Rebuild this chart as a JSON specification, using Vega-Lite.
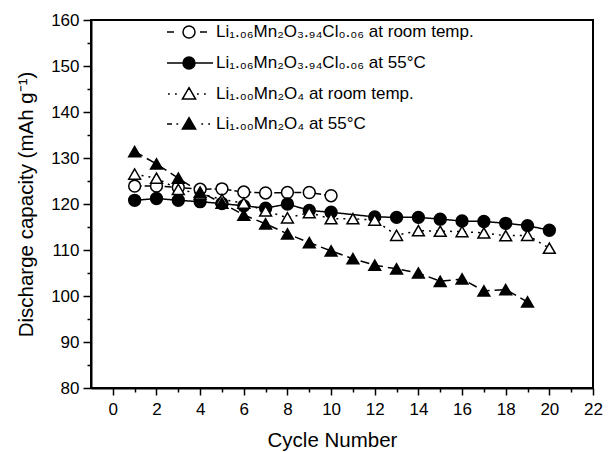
{
  "$schema": "https://vega.github.io/schema/vega-lite/v6.json",
  "width": 502,
  "height": 368,
  "autosize": {"type": "none"},
  "padding": {"left": 91, "top": 20, "right": 15, "bottom": 64},
  "background": "white",
  "config": {
    "font": "Liberation Sans",
    "view": {"stroke": "black", "strokeWidth": 2},
    "axis": {
      "grid": false,
      "domainColor": "black",
      "domainWidth": 2,
      "tickColor": "black",
      "tickWidth": 1.5,
      "labelColor": "black",
      "titleColor": "black",
      "labelFont": "Liberation Sans",
      "titleFont": "Liberation Sans",
      "labelFontSize": 17,
      "titleFontSize": 20.5,
      "titleFontWeight": "normal"
    }
  },
  "data": {
    "values": [
      {"s": "A", "c": 1, "v": 123.9}, {"s": "A", "c": 2, "v": 123.9}, {"s": "A", "c": 3, "v": 123.6}, {"s": "A", "c": 4, "v": 123.2}, {"s": "A", "c": 5, "v": 123.3},
      {"s": "A", "c": 6, "v": 122.6}, {"s": "A", "c": 7, "v": 122.4}, {"s": "A", "c": 8, "v": 122.5}, {"s": "A", "c": 9, "v": 122.5}, {"s": "A", "c": 10, "v": 121.8},
      {"s": "B", "c": 1, "v": 120.8}, {"s": "B", "c": 2, "v": 121.2}, {"s": "B", "c": 3, "v": 120.8}, {"s": "B", "c": 4, "v": 120.5}, {"s": "B", "c": 5, "v": 120.1},
      {"s": "B", "c": 6, "v": 119.6}, {"s": "B", "c": 7, "v": 119.1}, {"s": "B", "c": 8, "v": 120.0}, {"s": "B", "c": 9, "v": 118.6}, {"s": "B", "c": 10, "v": 118.2},
      {"s": "B", "c": 12, "v": 117.2}, {"s": "B", "c": 13, "v": 117.1}, {"s": "B", "c": 14, "v": 117.1}, {"s": "B", "c": 15, "v": 116.7}, {"s": "B", "c": 16, "v": 116.3},
      {"s": "B", "c": 17, "v": 116.2}, {"s": "B", "c": 18, "v": 115.8}, {"s": "B", "c": 19, "v": 115.3}, {"s": "B", "c": 20, "v": 114.3},
      {"s": "C", "c": 1, "v": 126.5}, {"s": "C", "c": 2, "v": 125.6}, {"s": "C", "c": 3, "v": 123.2}, {"s": "C", "c": 4, "v": 122.2}, {"s": "C", "c": 5, "v": 121.0},
      {"s": "C", "c": 6, "v": 120.2}, {"s": "C", "c": 7, "v": 118.5}, {"s": "C", "c": 8, "v": 117.0}, {"s": "C", "c": 9, "v": 118.1}, {"s": "C", "c": 10, "v": 116.8},
      {"s": "C", "c": 11, "v": 116.8}, {"s": "C", "c": 12, "v": 116.5}, {"s": "C", "c": 13, "v": 113.2}, {"s": "C", "c": 14, "v": 114.2}, {"s": "C", "c": 15, "v": 114.1},
      {"s": "C", "c": 16, "v": 114.0}, {"s": "C", "c": 17, "v": 113.7}, {"s": "C", "c": 18, "v": 113.1}, {"s": "C", "c": 19, "v": 113.2}, {"s": "C", "c": 20, "v": 110.4},
      {"s": "D", "c": 1, "v": 131.4}, {"s": "D", "c": 2, "v": 128.7}, {"s": "D", "c": 3, "v": 125.6}, {"s": "D", "c": 4, "v": 122.6}, {"s": "D", "c": 5, "v": 120.2},
      {"s": "D", "c": 6, "v": 117.6}, {"s": "D", "c": 7, "v": 115.7}, {"s": "D", "c": 8, "v": 113.5}, {"s": "D", "c": 9, "v": 111.6}, {"s": "D", "c": 10, "v": 109.8},
      {"s": "D", "c": 11, "v": 108.1}, {"s": "D", "c": 12, "v": 106.7}, {"s": "D", "c": 13, "v": 105.9}, {"s": "D", "c": 14, "v": 105.0}, {"s": "D", "c": 15, "v": 103.2},
      {"s": "D", "c": 16, "v": 103.7}, {"s": "D", "c": 17, "v": 101.1}, {"s": "D", "c": 18, "v": 101.4}, {"s": "D", "c": 19, "v": 98.7}
    ]
  },
  "encoding": {
    "x": {
      "field": "c",
      "type": "quantitative",
      "scale": {"domain": [-1, 22], "nice": false, "zero": false},
      "axis": {
        "title": "Cycle Number",
        "values": [0, 1, 2, 3, 4, 5, 6, 7, 8, 9, 10, 11, 12, 13, 14, 15, 16, 17, 18, 19, 20, 21, 22],
        "labelExpr": "datum.value % 2 === 0 ? datum.label : ''",
        "tickSize": {"condition": {"test": "datum.value % 2 === 0", "value": 7}, "value": 4},
        "labelPadding": 6,
        "titlePadding": 13,
        "titleX": 241,
        "labelFlush": false,
        "labelOverlap": false
      }
    },
    "y": {
      "field": "v",
      "type": "quantitative",
      "scale": {"domain": [80, 160], "nice": false, "zero": false},
      "axis": {
        "title": "Discharge capacity (mAh g⁻¹)",
        "values": [80, 85, 90, 95, 100, 105, 110, 115, 120, 125, 130, 135, 140, 145, 150, 155, 160],
        "labelExpr": "datum.value % 10 === 0 ? datum.label : ''",
        "tickSize": {"condition": {"test": "datum.value % 10 === 0", "value": 8}, "value": 4},
        "labelPadding": 4,
        "titlePadding": 14,
        "labelFlush": false,
        "labelOverlap": false
      }
    }
  },
  "layer": [
    {
      "mark": {"type": "line", "color": "black", "strokeWidth": 1.5},
      "encoding": {
        "strokeDash": {
          "field": "s",
          "type": "nominal",
          "scale": {"domain": ["A", "B", "C", "D"], "range": [[7, 3], [1, 0], [2, 5], [9, 5]]},
          "legend": null
        }
      }
    },
    {
      "mark": {"type": "point", "filled": true, "stroke": "black", "strokeWidth": 1.5, "size": 140, "opacity": 1},
      "encoding": {
        "shape": {
          "field": "s",
          "type": "nominal",
          "scale": {"domain": ["A", "B", "C", "D"], "range": ["circle", "circle", "triangle-up", "triangle-up"]},
          "legend": null
        },
        "fill": {
          "field": "s",
          "type": "nominal",
          "scale": {"domain": ["A", "B", "C", "D"], "range": ["white", "black", "white", "black"]},
          "legend": null
        }
      }
    },
    {
      "mark": {"type": "point", "filled": true, "stroke": "black", "strokeWidth": 1.5, "opacity": 0},
      "encoding": {
        "shape": {
          "field": "s",
          "type": "nominal",
          "scale": {
            "domain": ["A", "B", "C", "D"],
            "range": [
              "M-3.667,0L-2.5,0M1.833,0L3,0M1,0A1,1,0,1,1,-1,0A1,1,0,1,1,1,0Z",
              "M-3.667,0L4,0M1,0A1,1,0,1,1,-1,0A1,1,0,1,1,1,0Z",
              "M-3.5,0L-3.2,0M-2.333,0L-2.033,0M1.333,0L1.633,0M2.5,0L2.8,0M0,-1.05L1.1,0.85L-1.1,0.85Z",
              "M-3.667,0L-2.833,0M-2.1,0L-1.8,0M2.05,0L2.35,0M3.2,0L3.5,0M0,-1.05L1.1,0.85L-1.1,0.85Z"
            ]
          },
          "legend": {
            "orient": "none",
            "legendX": 89.5,
            "legendY": 3.5,
            "title": null,
            "padding": 0,
            "labelExpr": "{'A': 'Li₁.₀₆Mn₂O₃.₉₄Cl₀.₀₆ at room temp.', 'B': 'Li₁.₀₆Mn₂O₃.₉₄Cl₀.₀₆ at 55°C', 'C': 'Li₁.₀₀Mn₂O₄ at room temp.', 'D': 'Li₁.₀₀Mn₂O₄ at 55°C'}[datum.label]",
            "labelFont": "Liberation Sans",
            "labelFontSize": 17,
            "labelColor": "black",
            "labelLimit": 400,
            "symbolSize": 144,
            "symbolStrokeWidth": 1.5,
            "symbolStrokeColor": "black",
            "labelOffset": 18.5,
            "rowPadding": 12,
            "symbolOpacity": 1,
            "encode": {"symbols": {"update": {"opacity": {"value": 1}}}}
          }
        },
        "fill": {
          "field": "s",
          "type": "nominal",
          "scale": {"domain": ["A", "B", "C", "D"], "range": ["white", "black", "white", "black"]},
          "legend": {
            "orient": "none",
            "legendX": 89.5,
            "legendY": 3.5,
            "title": null,
            "padding": 0,
            "labelExpr": "{'A': 'Li₁.₀₆Mn₂O₃.₉₄Cl₀.₀₆ at room temp.', 'B': 'Li₁.₀₆Mn₂O₃.₉₄Cl₀.₀₆ at 55°C', 'C': 'Li₁.₀₀Mn₂O₄ at room temp.', 'D': 'Li₁.₀₀Mn₂O₄ at 55°C'}[datum.label]",
            "labelFont": "Liberation Sans",
            "labelFontSize": 17,
            "labelColor": "black",
            "labelLimit": 400,
            "symbolSize": 144,
            "symbolStrokeWidth": 1.5,
            "symbolStrokeColor": "black",
            "labelOffset": 18.5,
            "rowPadding": 12,
            "symbolOpacity": 1,
            "encode": {"symbols": {"update": {"opacity": {"value": 1}}}}
          }
        }
      }
    }
  ],
  "resolve": {"scale": {"shape": "independent", "fill": "independent"}}
}
